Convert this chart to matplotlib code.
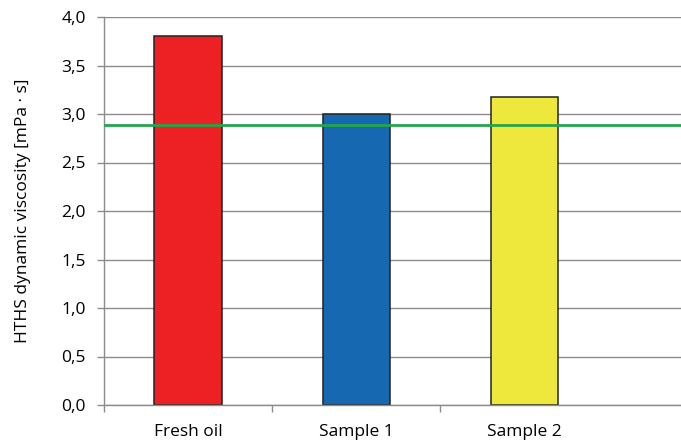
import numpy as np
import matplotlib
matplotlib.use("Agg")
import matplotlib.pyplot as plt

categories = ["Fresh oil", "Sample 1", "Sample 2"]
viscosity = [3.8, 3.0, 3.18]
limit_value = 2.89
bar_colors = ["#ED2124", "#1668B0", "#EDE83B"]

plt.rcParams['font.family'] = ['Open Sans', 'DejaVu Sans']

fig = plt.figure(figsize=(6.81, 4.46), dpi=100)
ax = fig.add_axes([104 / 681, 1 - 405 / 446, 1 - 104 / 681, 388 / 446])

x = np.arange(len(categories))
ax.set_axisbelow(True)
ax.grid(axis='y', color='#8c8c8c', linewidth=1.0)
ax.bar(x, viscosity, width=0.40, color=bar_colors, edgecolor='#222222', linewidth=1.1, zorder=2)
ax.axhline(limit_value, color='#22A64A', linewidth=2.0, zorder=3)

ax.set_xlim(-0.5, 2.93)
ax.set_ylim(0, 4.0)
ax.set_yticks(np.arange(0, 4.01, 0.5))
ax.set_yticklabels([f"{v:.1f}".replace('.', ',') for v in np.arange(0, 4.01, 0.5)])
ax.set_xticks(x)
ax.set_xticklabels(categories)
ax.set_xticks([-0.5, 0.5, 1.5], minor=True)
ax.tick_params(axis='x', which='major', length=0, pad=14, labelsize=12.5)
ax.tick_params(axis='x', which='minor', length=5, color='#8c8c8c', width=1.0)
ax.tick_params(axis='y', length=5, color='#8c8c8c', width=1.0, labelsize=12.5, pad=8)
ax.set_ylabel("HTHS dynamic viscosity [mPa · s]", fontsize=12.5, labelpad=22)

for side in ['top', 'right']:
    ax.spines[side].set_visible(False)
for side in ['left', 'bottom']:
    ax.spines[side].set_color('#8c8c8c')
    ax.spines[side].set_linewidth(1.0)

fig.savefig("out.png", dpi=100)
